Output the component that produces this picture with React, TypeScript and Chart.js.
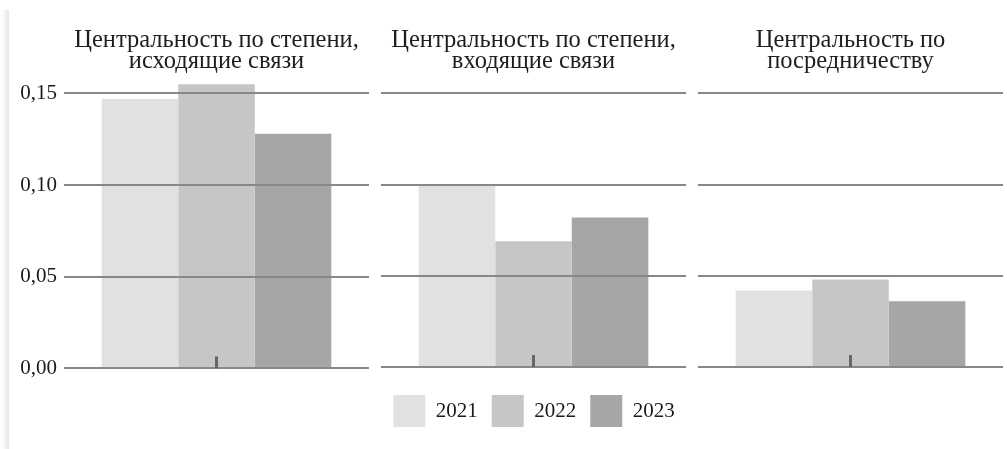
import React, { useEffect, useRef } from 'react';
import { Chart, registerables } from 'chart.js';

Chart.register(...registerables);

const FONT = '"Liberation Serif", "Times New Roman", serif';

const years = ['2021', '2022', '2023'];
const panelTitles = [
  ['Центральность по степени,', 'исходящие связи'],
  ['Центральность по степени,', 'входящие связи'],
  ['Центральность по', 'посредничеству'],
];
const values2021 = [0.147, 0.1, 0.042];
const values2022 = [0.155, 0.069, 0.048];
const values2023 = [0.128, 0.082, 0.036];
const yTickValues = [0, 0.05, 0.1, 0.15];
const yTickLabels = ['0,00', '0,05', '0,10', '0,15'];
const yMax = 0.16;
const seriesColors = ['#e1e1e1', '#c6c6c6', '#a6a6a6'];

const series = [values2021, values2022, values2023];

const centerTick = {
  id: 'centerTick',
  afterDraw(chart: any) {
    const xs = chart.scales.x;
    const x = xs.getPixelForValue(0);
    const { bottom } = chart.chartArea;
    const ctx = chart.ctx;
    ctx.save();
    ctx.strokeStyle = '#666666';
    ctx.lineWidth = 3;
    ctx.beginPath();
    ctx.moveTo(x, bottom);
    ctx.lineTo(x, bottom - 12);
    ctx.stroke();
    ctx.restore();
  },
};

function panelConfig(i: number, showY: boolean): any {
  return {
    type: 'bar',
    data: {
      labels: [''],
      datasets: years.map((y, k) => ({
        label: y,
        data: [series[k][i]],
        backgroundColor: seriesColors[k],
        borderWidth: 0,
        categoryPercentage: 0.753,
        barPercentage: 1,
      })),
    },
    options: {
      animation: false,
      responsive: false,
      maintainAspectRatio: false,
      layout: { padding: 0 },
      plugins: {
        legend: { display: false },
        tooltip: { enabled: false },
        title: {
          display: true,
          text: panelTitles[i],
          fullSize: false,
          color: '#1e1e1e',
          font: { family: FONT, size: 24.5, weight: 'normal', lineHeight: 0.86 },
          padding: { top: 30, bottom: 3 },
        },
      },
      scales: {
        x: {
          display: true,
          grid: { display: false },
          border: { display: false },
          ticks: { display: false },
          afterFit: (s: any) => {
            s.height = 13;
          },
        },
        y: {
          min: 0,
          max: yMax,
          afterBuildTicks: (s: any) => {
            s.ticks = yTickValues.map((v) => ({ value: v }));
          },
          grid: { color: '#888888', lineWidth: 2, drawTicks: false, z: 1 },
          border: { display: false },
          ticks: {
            display: showY,
            padding: 7,
            color: '#1a1a1a',
            font: { family: FONT, size: 21 },
            callback: (_v: any, idx: number) => yTickLabels[idx],
          },
          afterFit: (s: any) => {
            s.width = showY ? 64 : 0;
          },
        },
      },
    },
    plugins: [centerTick],
  };
}

function legendConfig(): any {
  return {
    type: 'bar',
    data: {
      labels: [],
      datasets: years.map((y, k) => ({
        label: y,
        data: [],
        backgroundColor: seriesColors[k],
        borderWidth: 0,
      })),
    },
    options: {
      animation: false,
      responsive: false,
      maintainAspectRatio: false,
      layout: { padding: 0 },
      plugins: {
        tooltip: { enabled: false },
        title: { display: false },
        legend: {
          display: true,
          position: 'top',
          maxHeight: 64,
          labels: {
            boxWidth: 32,
            boxHeight: 32,
            padding: 14,
            color: '#1a1a1a',
            font: { family: FONT, size: 21 },
          },
        },
      },
      scales: { x: { display: false }, y: { display: false } },
    },
  };
}

function ChartCanvas({ config, left, top, width, height }: any) {
  const ref = useRef<HTMLCanvasElement | null>(null);
  useEffect(() => {
    if (!ref.current) return;
    const chart = new Chart(ref.current, config());
    return () => chart.destroy();
  }, []);
  return (
    <canvas
      ref={ref}
      width={width}
      height={height}
      style={{ position: 'absolute', left, top, width, height }}
    />
  );
}

export default function App() {
  return (
    <div
      style={{
        position: 'fixed',
        left: 0,
        top: 0,
        width: 1007,
        height: 449,
        background: '#ffffff',
        overflow: 'hidden',
      }}
    >
      <div
        style={{
          position: 'absolute',
          left: 2,
          top: 10,
          width: 7,
          height: 439,
          background: 'linear-gradient(to right, rgba(235,235,235,0), #e6e6e6)',
        }}
      />
      <ChartCanvas config={() => panelConfig(0, true)} left={0} top={0} width={369} height={388} />
      <ChartCanvas config={() => panelConfig(1, false)} left={381} top={0} width={305} height={380} />
      <ChartCanvas config={() => panelConfig(2, false)} left={698} top={0} width={305} height={380} />
      <ChartCanvas config={legendConfig} left={334} top={381} width={400} height={64} />
    </div>
  );
}
